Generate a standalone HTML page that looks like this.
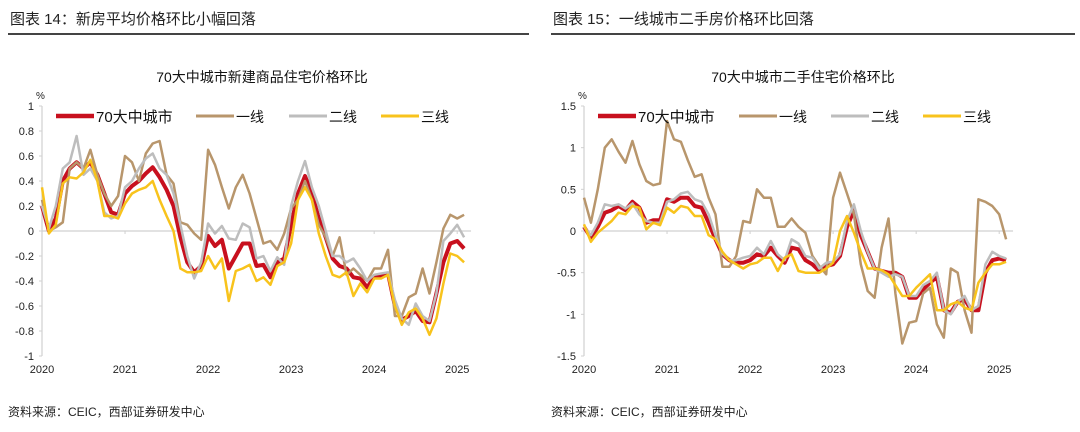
<!DOCTYPE html>
<html><head><meta charset="utf-8">
<style>
body{margin:0;width:1080px;height:432px;background:#fff;overflow:hidden;font-family:"Liberation Sans","Noto Sans CJK SC",sans-serif;}
svg{position:absolute;left:0;top:0}
</style></head>
<body>
<svg id="s" width="1080" height="432">
<text x="10" y="24" font-size="15" fill="#222">图表 14：新房平均价格环比小幅回落</text>
<rect x="8" y="33" width="521" height="2" fill="#444"/>
<text x="553" y="24" font-size="15" fill="#222">图表 15：一线城市二手房价格环比回落</text>
<rect x="551" y="33" width="524" height="2" fill="#444"/>
<text x="262" y="82" font-size="14" fill="#111" text-anchor="middle">70大中城市新建商品住宅价格环比</text>
<text x="803" y="82" font-size="14" fill="#111" text-anchor="middle">70大中城市二手住宅价格环比</text>
<text x="8" y="416" font-size="12" fill="#222">资料来源：CEIC，西部证券研发中心</text>
<text x="551" y="416" font-size="12" fill="#222">资料来源：CEIC，西部证券研发中心</text>
</svg>
<script>
const L_red=[.2,0,.1,.4,.5,.55,.5,.55,.45,.3,.15,.13, .3,.36,.4,.46,.51,.43,.33,.2,-.05,-.25,-.33,-.28, -.04,-.12,-.07,-.3,-.2,-.1,-.1,-.28,-.27,-.37,-.25,-.22, .05,.3,.44,.3,.1,-.05,-.22,-.28,-.3,-.37,-.38,-.45, -.37,-.36,-.34,-.6,-.71,-.68,-.64,-.72,-.73,-.5,-.25,-.1, -.08,-.14];
const L_t1=[.25,0,.03,.07,.5,.55,.5,.65,.45,.3,.2,.28, .6,.55,.4,.62,.7,.72,.45,.38,.07,.05,-.02,-.07, .65,.53,.35,.18,.35,.45,.3,.1,-.1,-.08,-.15,-.02, .18,.25,.4,.25,.05,-.05,-.2,-.05,-.35,-.3,-.35,-.4, -.3,-.3,-.15,-.68,-.68,-.53,-.5,-.3,-.5,-.25,.02,.13, .1,.13];
const L_t2=[.2,.02,.2,.5,.55,.76,.45,.5,.4,.15,.1,.12, .35,.4,.5,.58,.62,.5,.45,.3,.05,-.2,-.38,-.25, .06,-.02,.04,-.06,-.07,.06,.03,-.22,-.2,-.32,-.21,-.27, .2,.4,.56,.35,.2,0,-.2,-.2,-.25,-.22,-.3,-.4, -.35,-.34,-.33,-.55,-.7,-.75,-.58,-.68,-.72,-.5,-.08,-.02, .05,-.05];
const L_t3=[.35,-.02,.05,.38,.43,.42,.47,.57,.4,.12,.12,.1, .22,.3,.33,.35,.4,.25,.12,0,-.3,-.33,-.33,-.32, -.2,-.3,-.22,-.56,-.32,-.3,-.27,-.4,-.37,-.43,-.28,-.25, -.1,.25,.35,.25,-.02,-.2,-.35,-.37,-.33,-.52,-.42,-.49, -.38,-.38,-.35,-.6,-.75,-.65,-.62,-.7,-.83,-.7,-.42,-.18, -.2,-.25];
const R_red=[.05,-.08,.05,.22,.25,.3,.25,.35,.28,.1,.13,.13, .38,.35,.4,.4,.3,.28,.1,-.1,-.28,-.35,-.38,-.38, -.35,-.28,-.3,-.2,-.3,-.38,-.2,-.22,-.35,-.4,-.48,-.42, -.4,-.3,.05,.25,-.05,-.25,-.45,-.48,-.5,-.5,-.55,-.8, -.8,-.7,-.62,-.55,-.95,-.98,-.85,-.82,-.95,-.95,-.5,-.35, -.33,-.35];
const R_t1=[.4,.1,.5,1.0,1.1,.95,.82,1.08,.8,.6,.55,.57, 1.32,1.1,1.07,.85,.65,.68,.4,.2,-.43,-.43,-.3,.12, .1,.5,.4,.4,.05,.05,.15,.05,-.02,-.3,-.42,-.52, .4,.7,.45,.2,-.4,-.72,-.8,-.2,.15,-.75,-1.35,-1.1, -1.08,-.75,-.68,-1.12,-1.28,-.45,-.5,-.95,-1.22,.38,.35,.3, .2,-.1];
const R_t2=[.05,-.05,.1,.32,.3,.32,.27,.33,.2,.12,.1,.1, .35,.38,.45,.47,.38,.35,.2,-.05,-.27,-.35,-.35,-.32, -.3,-.2,-.28,-.12,-.28,-.35,-.1,-.15,-.3,-.32,-.45,-.38, -.37,-.28,.12,.32,0,-.25,-.45,-.5,-.55,-.52,-.55,-.78, -.78,-.65,-.6,-.5,-.95,-1.0,-.85,-.78,-.95,-.9,-.4,-.25, -.3,-.33];
const R_t3=[.08,-.13,-.02,.05,.12,.22,.2,.3,.28,.02,.1,.07, .28,.22,.3,.28,.18,.18,-.05,-.1,-.25,-.35,-.4,-.45, -.4,-.38,-.32,-.32,-.48,-.32,-.28,-.48,-.5,-.5,-.5,-.45, -.38,0,.18,-.02,-.25,-.45,-.45,-.47,-.52,-.65,-.78,-.78, -.68,-.6,-.52,-.95,-.95,-.88,-.85,-.92,-.95,-.62,-.5,-.4, -.4,-.37];
const years=["2020","2021","2022","2023","2024","2025"];
const L_ticks=[1,0.8,0.6,0.4,0.2,0,-0.2,-0.4,-0.6,-0.8,-1];
const R_ticks=[1.5,1,0.5,0,-0.5,-1,-1.5];
const legendNames=["70大中城市","一线","二线","三线"];

const svg=document.getElementById('s');
const NS='http://www.w3.org/2000/svg';
function mk(tag,attrs,parent){const e=document.createElementNS(NS,tag);for(const k in attrs)e.setAttribute(k,attrs[k]);(parent||svg).appendChild(e);return e;}
const colors=["#c8101e","#b8966c","#bdbdbd","#f8c31c"];
const widths=[4,2.5,2.5,2.5];

function chart(pre,x0,yTop,yBot,vmax,vmin,ticks,series,legX){
  const g=mk('g',{});
  
  
  const mx=6.92;
  const X=i=>x0+i*mx;
  const Y=v=>yTop+(vmax-v)/(vmax-vmin)*(yBot-yTop);
  const ax=mk('line',{x1:x0,x2:x0,y1:yTop,y2:yBot,stroke:'#d0d0d0','stroke-width':1.2},g);
  
  
  const zl=mk('line',{x1:x0,x2:x0+62*mx,y1:Y(0),y2:Y(0),stroke:'#d0d0d0','stroke-width':1.2},g);
  
  
  ticks.forEach(t=>{
    const tx=mk('text',{x:x0-8,y:Y(t)+4,'font-size':11,'text-anchor':'end',fill:'#222'},g);
    tx.textContent=String(t);
    
    
    mk('line',{x1:x0-3,x2:x0,y1:Y(t),y2:Y(t),stroke:'#d0d0d0'},g);
  });
  const pc=mk('text',{x:x0-6,y:yTop-7,'font-size':10,fill:'#222'},g);
  pc.textContent='%';
  
  
  years.forEach((yr,k)=>{
    const xx=X(k*12);
    mk('line',{x1:xx,x2:xx,y1:Y(0),y2:Y(0)+3,stroke:'#d0d0d0'},g);
    const tx=mk('text',{x:xx,y:yBot+17,'font-size':11,'text-anchor':'middle',fill:'#222'},g);
    tx.textContent=yr;
    
    
  });
  const order=[0,1,2,3];
  order.forEach(si=>{
    const d=series[si].map((v,i)=>(i?'L':'M')+X(i).toFixed(1)+','+Y(v).toFixed(1)).join('');
    const p=mk('path',{d:d,fill:'none',stroke:colors[si],'stroke-width':widths[si],'stroke-linejoin':'round'},g);
    
    
  });
  const ly=116;
  legendNames.forEach((n,k)=>{
    const lx=legX[k];
    const ln=mk('line',{x1:lx,x2:lx+38,y1:ly,y2:ly,stroke:colors[k],'stroke-width':k?3:4.5},g);
    
    
    const tx=mk('text',{x:lx+40,y:ly+6,'font-size':k?14:15,fill:'#111'},g);
    tx.textContent=n;
    
    
  });
}
chart('left',42,106,356,1,-1,L_ticks,[L_red,L_t1,L_t2,L_t3],[56,196,289,381]);
chart('right',584,106,356,1.5,-1.5,R_ticks,[R_red,R_t1,R_t2,R_t3],[598,739,831,923]);
</script>
</body></html>
